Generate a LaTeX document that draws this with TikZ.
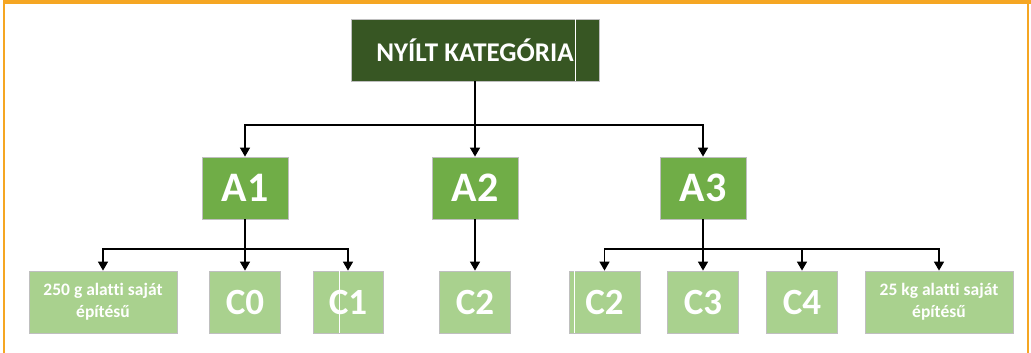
\documentclass[tikz,border=0pt]{standalone}
\usepackage{fontspec}
\setmainfont{Carlito}[Ligatures={NoCommon}]
\usepackage{tikz}
\usetikzlibrary{arrows.meta}
\usetikzlibrary{calc,positioning}

\definecolor{framecol}{HTML}{F5A623}
\definecolor{darkgr}{HTML}{375623}
\definecolor{midgr}{HTML}{70AD47}
\definecolor{lightgr}{HTML}{A9D18E}
\definecolor{edgegr}{HTML}{BFBFBF}

\tikzset{
  box/.style = {draw=edgegr, line width=0.8pt, text=white, font=\bfseries,
                minimum height=62pt, inner sep=0pt, align=center},
  topbox/.style = {box, fill=darkgr, minimum width=248pt, font=\bfseries\fontsize{27}{30}\selectfont},
  abox/.style = {box, fill=midgr, minimum width=86pt, font=\bfseries\fontsize{42}{46}\selectfont},
  cbox/.style = {box, fill=lightgr, minimum width=71pt, font=\bfseries\fontsize{37}{40}\selectfont},
  wbox/.style = {box, fill=lightgr, minimum width=148pt, font=\bfseries\fontsize{17.5}{22}\selectfont},
  conn/.style = {line width=1.5pt},
}

\begin{document}
\begin{tikzpicture}[>={Triangle[width=10pt,length=9pt]}, x=1pt, y=-1pt]

    \useasboundingbox (0,0) rectangle (1031,353);
    % frame
    \fill[framecol] (3,0) rectangle (1031,4);
    \fill[framecol] (3,4) rectangle (5,353);
    \fill[framecol] (1027,4) rectangle (1029,353);

    \node[topbox] (nyilt) at (475,50) {NYÍLT KATEGÓRIA};

    \node[abox] (a1) at (245,188) {A1};
    \node[abox] (a2) at (475,188) {A2};
    \node[abox] (a3) at (703,188) {A3};

    \node[wbox] (g250) at (103,302) {250 g alatti saját\\építésű};
    \node[cbox] (c0) at (245,302) {C0};
    \node[cbox, minimum width=70pt] (c1) at (348,302) {C1};
    \node[cbox] (c2a) at (475,302) {C2};
    \node[cbox] (c2b) at (604.5,302) {C2};
    \node[cbox] (c3) at (703,302) {C3};
    \node[cbox] (c4) at (802,302) {C4};
    \node[wbox] (kg25) at (939,302) {25 kg alatti saját\\építésű};

    % white seams
    \draw[white, line width=0.8pt] (575,19) -- (575,81);
    \draw[white, line width=0.8pt] (339,271) -- (339,333);
    \draw[white, line width=0.8pt] (574,271) -- (574,333);

    \coordinate (j0) at (475,125);
    \coordinate (j1) at (245,249);
    \coordinate (j3) at (703,249);

    \draw[conn] (nyilt) -- (j0);
    \draw[conn,->] (j0) -| (a1.north);
    \draw[conn,->] (j0) -- (a2.north);
    \draw[conn,->] (j0) -| (a3.north);

    \draw[conn] (a1) -- (j1);
    \draw[conn,->] (j1) -| (g250.north);
    \draw[conn,->] (j1) -- (c0.north);
    \draw[conn,->] (j1) -| (c1.north);

    \draw[conn,->] (a2) -- (c2a);

    \draw[conn] (a3) -- (j3);
    \draw[conn,->] (j3) -| (c2b.north);
    \draw[conn,->] (j3) -- (c3.north);
    \draw[conn,->] (j3) -| (c4.north);
    \draw[conn,->] (j3) -| (kg25.north);

\end{tikzpicture}
\end{document}
